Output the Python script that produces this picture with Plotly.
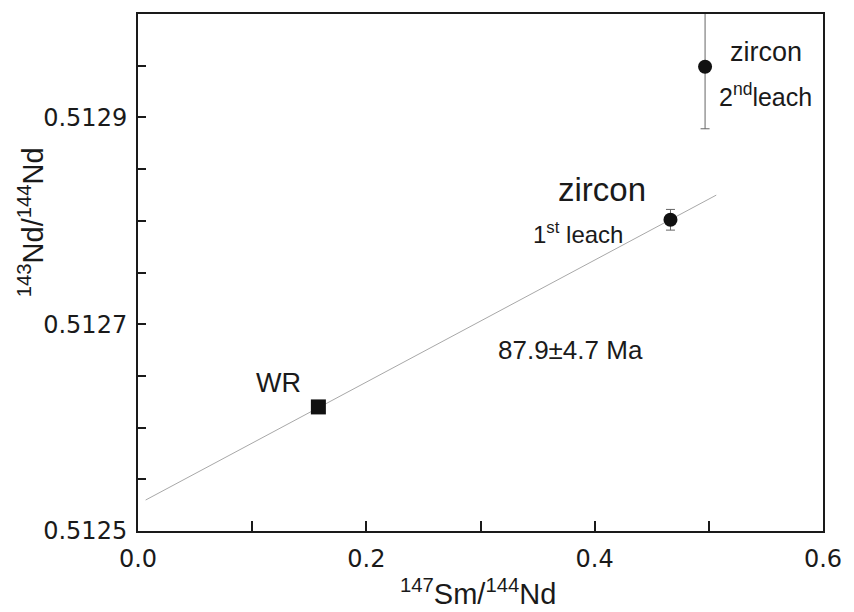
import plotly.graph_objects as go

# ---- data ----
sample_names = ["WR", "zircon 1st leach", "zircon 2nd leach"]
sm_nd = [0.158, 0.4664, 0.4967]
nd_nd = [0.51262, 0.512801, 0.512949]
nd_err = [0.0, 0.00001, 0.00006]

fit_x = [0.0067, 0.5065]
fit_intercept = 0.512526
fit_slope = 0.00059
age_label = "87.9±4.7 Ma"

x_ticks = [0.0, 0.2, 0.4, 0.6]
y_ticks = [0.5125, 0.5127, 0.5129]
y_tick_text = ["0.5125", "0.5127", "0.5129"]

FONT = "Liberation Sans, Arial, Helvetica, sans-serif"
TICKFONT = "DejaVu Sans, Liberation Sans, sans-serif"
INK = "#1a1a1a"

fit_y = [fit_intercept + fit_slope * v for v in fit_x]

fig = go.Figure()
fig.add_trace(go.Scatter(
    x=fit_x, y=fit_y, mode="lines",
    line=dict(color="#a8a8a8", width=1), hoverinfo="skip", showlegend=False))

# WR square
fig.add_trace(go.Scatter(
    x=sm_nd[:1], y=nd_nd[:1], mode="markers",
    marker=dict(symbol="square", size=15, color="#111111"), showlegend=False))

# zircon leaches with error bars
fig.add_trace(go.Scatter(
    x=sm_nd[1:], y=nd_nd[1:], mode="markers",
    marker=dict(symbol="circle", size=14, color="#111111"),
    error_y=dict(type="data", array=nd_err[1:], visible=True,
                 color="#666666", thickness=1, width=4.5),
    showlegend=False))

def ann(x, y, text, size, xref="x", yref="y", angle=0):
    fig.add_annotation(x=x, y=y, xref=xref, yref=yref, text=text,
                       showarrow=False, textangle=angle,
                       font=dict(family=FONT, size=size, color=INK),
                       xanchor="center", yanchor="middle")

ann(0.1229, 0.512643, "WR", 27)
ann(0.406, 0.512830, "zircon", 33)
ann(0.3853, 0.512788, "1<sup>st</sup> leach", 24)
ann(0.5505, 0.512963, "zircon", 27)
ann(0.5495, 0.512922, "2<sup>nd</sup>leach", 25)
ann(0.3784, 0.512675, age_label, 26)

ann(0.496, -0.118, "<sup>147</sup>Sm/<sup>144</sup>Nd", 29, xref="paper", yref="paper")
ann(-0.157, 0.598, "<sup>143</sup>Nd/<sup>144</sup>Nd", 29, xref="paper", yref="paper", angle=-90)

fig.update_xaxes(
    range=[0.0, 0.6], tickvals=x_ticks, ticktext=[f"{v:.1f}" for v in x_ticks],
    ticks="inside", ticklen=10, tickwidth=1.5, tickcolor=INK,
    minor=dict(dtick=0.1, tick0=0, ticks="inside", ticklen=10, tickwidth=1.5, tickcolor=INK),
    showline=True, linecolor=INK, linewidth=2, mirror=True,
    showgrid=False, zeroline=False,
    tickfont=dict(family=TICKFONT, size=24, color=INK), ticklabelstandoff=5)

fig.update_yaxes(
    range=[0.5125, 0.5130], tickvals=y_ticks, ticktext=y_tick_text,
    ticks="inside", ticklen=8, tickwidth=1.5, tickcolor=INK,
    minor=dict(dtick=0.00005, tick0=0.5125, ticks="inside", ticklen=8, tickwidth=1.5, tickcolor=INK),
    showline=True, linecolor=INK, linewidth=2, mirror=True,
    showgrid=False, zeroline=False,
    tickfont=dict(family=TICKFONT, size=24, color=INK), ticklabelstandoff=4)

fig.update_layout(
    width=854, height=612,
    margin=dict(l=138, r=23, t=14, b=81),
    plot_bgcolor="white", paper_bgcolor="white",
    showlegend=False)

fig.write_html("out.html",
               config={"displayModeBar": False},
               post_script="document.body.style.margin='0';document.body.style.overflow='hidden';")
